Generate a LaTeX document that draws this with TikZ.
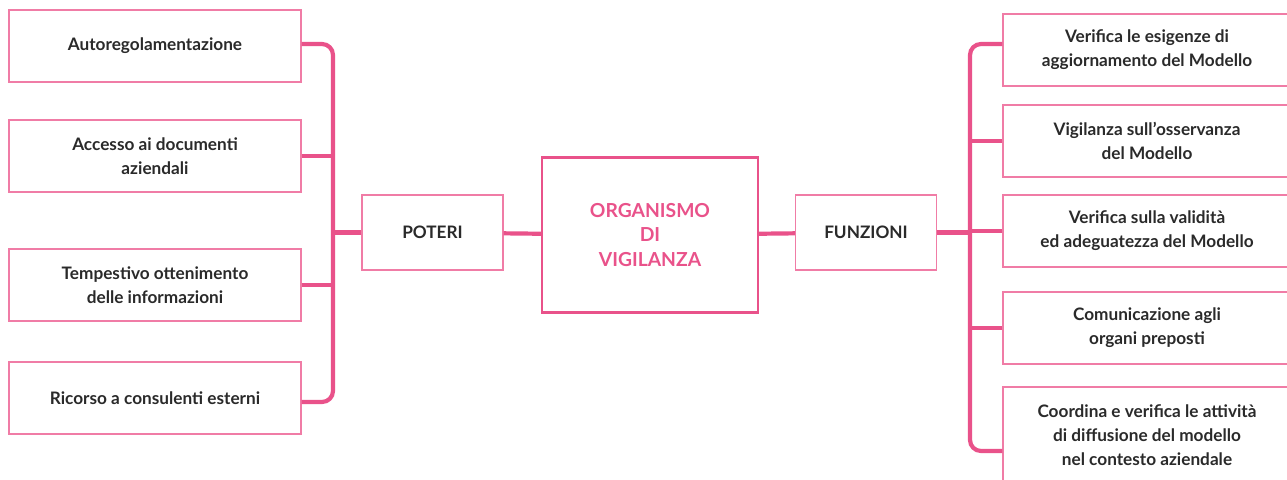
\documentclass[tikz,border=0pt]{standalone}
\usepackage{fontspec}
\setmainfont{Lato}
\usepackage{tikz}
\usepackage{xcolor}
\usetikzlibrary{positioning, calc}
\definecolor{linkPink}{HTML}{E9528A}
\definecolor{boxPink}{HTML}{F07CA6}
\definecolor{txtGray}{HTML}{2A2A2A}
\tikzset{
    itemBox/.style={draw=boxPink, line width=1.3pt, fill=white, text=txtGray, align=center,
        font=\fontsize{17.2}{24}\selectfont\bfseries, minimum height=72pt, inner sep=0pt},
    hubBox/.style={itemBox, minimum width=141pt, minimum height=75pt},
    mainBox/.style={draw=linkPink, line width=2.4pt, text=linkPink, align=center,
        font=\fontsize{19.3}{24.5}\selectfont\bfseries, minimum width=216pt, minimum height=155pt},
    linkLine/.style={draw=linkPink, line width=4.2pt}
}

\begin{document}
\begin{tikzpicture}[x=1pt, y=-1pt]
    \useasboundingbox (0,0) rectangle (1287,479);
    \clip (0,0) rectangle (1287,479);
    % centre
    \node[mainBox] (ov) at (650,235) {ORGANISMO\\DI\\VIGILANZA};
    \node[hubBox] (poteri) at (432.5,232.5) {POTERI};
    \node[hubBox] (funzioni) at (866,232.5) {FUNZIONI};
    % left column
    \node[itemBox, minimum width=292pt] (p1) at (155,46) {Autoregolamentazione};
    \node[itemBox, minimum width=292pt] (p2) at (155,156) {Accesso ai documenti\\aziendali};
    \node[itemBox, minimum width=292pt] (p3) at (155,285) {Tempestivo ottenimento\\delle informazioni};
    \node[itemBox, minimum width=292pt] (p4) at (155,398) {Ricorso a consulenti esterni};
    % right column
    \node[itemBox, minimum width=288pt] (f1) at (1147,50) {Verifica le esigenze di\\aggiornamento del Modello};
    \node[itemBox, minimum width=288pt] (f2) at (1147,141) {Vigilanza sull'osservanza\\del Modello};
    \node[itemBox, minimum width=288pt] (f3) at (1147,231) {Verifica sulla validità\\ed adeguatezza del Modello};
    \node[itemBox, minimum width=288pt] (f4) at (1147,328) {Comunicazione agli\\organi preposti};
    \node[itemBox, minimum width=288pt, minimum height=96pt] (f5) at (1147,435) {Coordina e verifica le attività\\di diffusione del modello\\nel contesto aziendale};
    \coordinate (lSpine) at (333,0);
    \coordinate (rSpine) at (970,0);
    \coordinate (p1s) at ([yshift=2pt]p1.east);
    \coordinate (p4s) at ([yshift=-4pt]p4.east);
    \coordinate (f1s) at ([yshift=6pt]f1.west);
    \coordinate (f5s) at ([yshift=-16pt]f5.west);
    % connectors
    \draw[linkLine] (poteri) -- (ov);
    \draw[linkLine] (ov) -- (funzioni);
    \draw[linkLine, rounded corners=11pt] (p1s) -| (lSpine |- p4s) -- (p4s);
    \draw[linkLine] (p2.east) -- (p2.east -| lSpine);
    \draw[linkLine] (p3.east) -- (p3.east -| lSpine);
    \draw[linkLine] (poteri.west) -- (poteri.west -| lSpine);
    \draw[linkLine, rounded corners=11pt] (f1s) -| (rSpine |- f5s) -- (f5s);
    \draw[linkLine] (f2.west) -- (f2.west -| rSpine);
    \draw[linkLine] (f3.west) -- (f3.west -| rSpine);
    \draw[linkLine] (f4.west) -- (f4.west -| rSpine);
    \draw[linkLine] (funzioni.east) -- (funzioni.east -| rSpine);
\end{tikzpicture}
\end{document}
